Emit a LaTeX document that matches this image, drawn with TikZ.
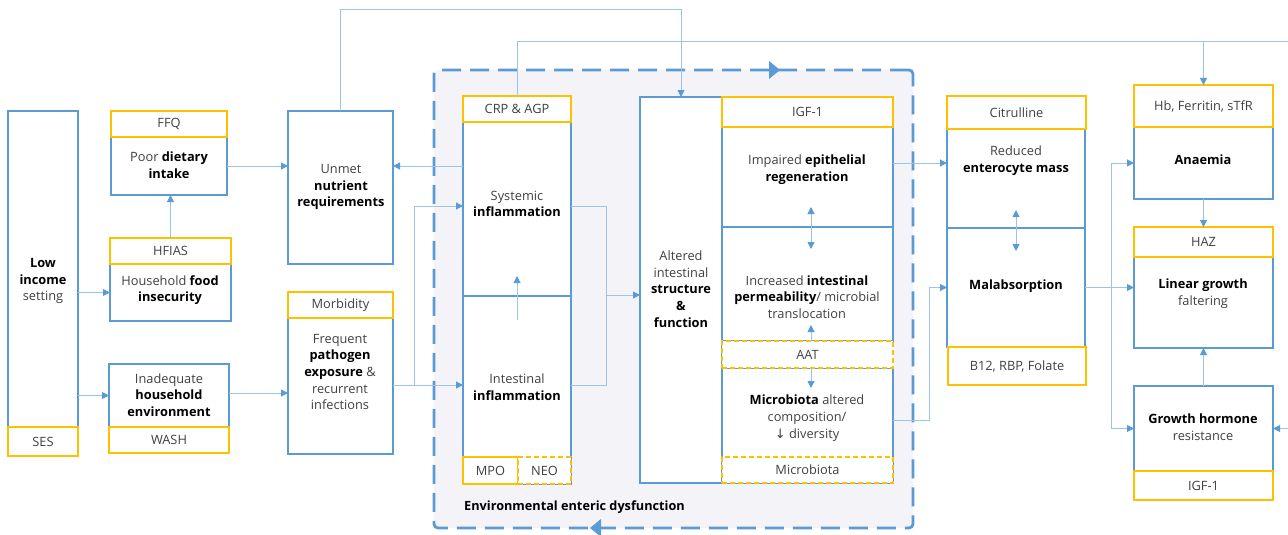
\documentclass[tikz,border=0pt]{standalone}
\usepackage{fontspec}
\setmainfont{Open Sans}
\newfontfamily\symfont{DejaVu Sans}
\usetikzlibrary{fit,arrows.meta}
\definecolor{boxblue}{HTML}{5B9BD5}
\definecolor{linkblue}{HTML}{9DC3E6}
\definecolor{mgold}{HTML}{FFC000}
\definecolor{eedfill}{HTML}{F3F3F8}
\definecolor{txt}{HTML}{404040}
\newcommand\kw[1]{{\bfseries\color{black}#1}}
\tikzset{ltip/.tip={Triangle[length=7pt,width=7pt,color=boxblue]}}

\begin{document}
\begin{tikzpicture}[x=1pt,y=-1pt,
  bbox/.style={draw=boxblue, line width=1.4pt, fill=white, inner sep=0pt, outer sep=0pt},
  ybox/.style={draw=mgold, line width=1.6pt, fill=white, inner sep=0pt, outer sep=0pt},
  ydash/.style={ybox, dash pattern=on 5pt off 3pt},
  eedbox/.style={draw=boxblue, line width=2.8pt, dash pattern=on 19pt off 9pt,
    fill=eedfill, rounded corners=4pt, inner sep=0pt},
  lbl/.style={font=\fontsize{12.8}{16.7}\selectfont, text=txt, align=center, inner sep=0pt},
  link/.style={draw=linkblue, line width=1pt, -{ltip}},
  plain/.style={draw=linkblue, line width=1pt},
  twoway/.style={draw=linkblue, line width=1pt, {ltip}-{ltip}}
]
\useasboundingbox (0,0) rectangle (1288,535);

% ---- environmental enteric dysfunction frame ----
\node[eedbox, fit={(434,70)(913,528)}] (eed) {};
\fill[boxblue] (769,61) -- (780,70) -- (769,79) -- cycle;
\fill[boxblue] (601,519) -- (590,528) -- (601,537) -- cycle;
\node[lbl, anchor=west, font=\fontsize{12.7}{14}\selectfont\bfseries, text=black] (eedtxt) at (464,507) {Environmental enteric dysfunction};

% ---- blue boxes ----
\node[bbox, fit={(8,111)(78,427)}] (low) {};
\node[bbox, fit={(111,137)(227,195)}] (poor) {};
\node[bbox, fit={(110,264)(231,321)}] (food) {};
\node[bbox, fit={(109,364)(229,427)}] (inad) {};
\node[bbox, fit={(288,111)(393,264)}] (unmet) {};
\node[bbox, fit={(288,318)(393,454)}] (freq) {};
\node[bbox, fit={(463,122)(571,296)}] (sys) {};
\node[bbox, fit={(463,296)(571,484)}] (int) {};
\node[bbox, fit={(640,97)(722,483)}] (alt) {};
\node[bbox, fit={(722,127)(893,227)}] (imp) {};
\node[bbox, fit={(722,227)(893,341)}] (perm) {};
\node[bbox, fit={(722,368)(893,483)}] (mic) {};
\node[bbox, fit={(947,129)(1085,228)}] (red) {};
\node[bbox, fit={(947,228)(1085,347)}] (mal) {};
\node[bbox, fit={(1134,127)(1273,199)}] (ana) {};
\node[bbox, fit={(1134,257)(1273,348)}] (lin) {};
\node[bbox, fit={(1134,386)(1273,471)}] (gh) {};

% ---- indicator boxes ----
\node[ybox, fit={(8,427)(78,456)}] (ses) {};
\node[ybox, fit={(111,111)(227,137)}] (ffq) {};
\node[ybox, fit={(110,238)(231,264)}] (hfias) {};
\node[ybox, fit={(109,427)(229,453)}] (wash) {};
\node[ybox, fit={(288,292)(393,318)}] (morb) {};
\node[ybox, fit={(463,96)(571,122)}] (crp) {};
\node[ybox, fit={(463,457)(518,484)}] (mpo) {};
\node[ydash, fit={(518,457)(571,484)}] (neo) {};
\node[ybox, fit={(722,97)(893,127)}] (igfa) {};
\node[ydash, fit={(722,341)(893,368)}] (aat) {};
\node[ydash, fit={(722,457)(893,483)}] (micm) {};
\node[ybox, fit={(947,96)(1086,129)}] (cit) {};
\node[ybox, fit={(948,347)(1086,385)}] (b12) {};
\node[ybox, fit={(1134,85)(1273,127)}] (hb) {};
\node[ybox, fit={(1134,227)(1273,257)}] (haz) {};
\node[ybox, fit={(1134,471)(1273,500)}] (igfb) {};

% ---- texts ----
\node[lbl] at (43,281) {\kw{Low}\\\kw{income}\\setting};
\node[lbl] at (ses) {SES};
\node[lbl] at (ffq) {FFQ};
\node[lbl] at (169,165) {Poor \kw{dietary}\\\kw{intake}};
\node[lbl] at (hfias) {HFIAS};
\node[lbl] at (170,290) {Household \kw{food}\\\kw{insecurity}};
\node[lbl] at (169,395) {Inadequate\\\kw{household}\\\kw{environment}};
\node[lbl] at (wash) {WASH};
\node[lbl] at (341,187) {Unmet\\\kw{nutrient}\\\kw{requirements}};
\node[lbl] at (morb) {Morbidity};
\node[lbl] at (340,372) {Frequent\\\kw{pathogen}\\\kw{exposure} \&\\recurrent\\infections};
\node[lbl] at (crp) {CRP \& AGP};
\node[lbl] at (517,204) {Systemic\\\kw{inflammation}};
\node[lbl] at (517,387) {Intestinal\\\kw{inflammation}};
\node[lbl] at (mpo) {MPO};
\node[lbl] at (neo) {NEO};
\node[lbl] at (681,289) {Altered\\intestinal\\\kw{structure}\\\kw{\&}\\\kw{function}};
\node[lbl] at (igfa) {IGF-1};
\node[lbl] at (807,170) {Impaired \kw{epithelial}\\\kw{regeneration}};
\node[lbl] at (807,297) {Increased \kw{intestinal}\\\kw{permeability}/ microbial\\translocation};
\node[lbl] at (aat) {AAT};
\node[lbl] at (807,418) {\kw{Microbiota} altered\\composition/\\{\symfont\fontsize{13}{14}\selectfont ↓} diversity};
\node[lbl] at (micm) {Microbiota};
\node[lbl] at (cit) {Citrulline};
\node[lbl] at (1016,161) {Reduced\\\kw{enterocyte mass}};
\node[lbl] at (1016,286) {\kw{Malabsorption}};
\node[lbl] at (b12) {B12, RBP, Folate};
\node[lbl] at (hb) {Hb, Ferritin, sTfR};
\node[lbl] at (1203,160) {\kw{Anaemia}};
\node[lbl] at (haz) {HAZ};
\node[lbl] at (1203,294) {\kw{Linear growth}\\faltering};
\node[lbl] at (1203,427) {\kw{Growth hormone}\\resistance};
\node[lbl] at (igfb) {IGF-1};

% ---- bend points and loose ends ----
\coordinate (topA) at (0,10);
\coordinate (topB) at (0,42);
\coordinate (edgeA) at (1288,42);
\coordinate (edgeB) at (1288,428.5);
\coordinate (ysys) at (0,206);
\coordinate (yint) at (0,385);
\coordinate (yenv) at (0,393);
\coordinate (fork) at (414,385);
\coordinate (merge) at (606,295);
\coordinate (yimp) at (0,163);
\coordinate (ymic) at (0,420);
\coordinate (mbend) at (929,287.5);
\coordinate (fan) at (1111,287.5);

% ---- connectors ----
\draw[link] (low.east |- food) -- (food.west);
\draw[link] (low.east |- inad) -- (inad.west);
\draw[link] (hfias.north) -- (hfias.north |- poor.south);
\draw[link] (poor.east) -- (poor.east -| unmet.west);
\draw[link] (inad.east |- yenv) -- (freq.west |- yenv);
\draw[link] (sys.west |- poor.east) -- (unmet.east |- poor.east);
\draw[link] (freq.east |- yint) -- (int.west |- yint);
\draw[link] (fork) |- (sys.west |- ysys);
\draw[plain] (sys.east |- ysys) -| (merge |- yint) -- (int.east |- yint);
\draw[link] (merge) -- (alt.west |- merge);
\draw[link] ([yshift=-24pt]int.north) -- ([yshift=20pt]int.north);
\draw[link] (unmet.north) -- (unmet.north |- topA) -| (alt.north);
\draw[plain] (crp.north) -- (crp.north |- topB) -- (edgeA);
\draw[link] (hb.north |- topB) -- (hb.north);
\draw[twoway] ([xshift=3.5pt,yshift=20pt]imp.south) -- ([xshift=3.5pt,yshift=-22pt]imp.south);
\draw[link] ([xshift=3.5pt]aat.north) -- ([xshift=3.5pt,yshift=16pt]aat.north);
\draw[link] ([xshift=3.5pt]aat.south) -- ([xshift=3.5pt,yshift=-20pt]aat.south);
\draw[link] (imp.east |- yimp) -- (red.west |- yimp);
\draw[link] (mic.east |- ymic) -| (mbend) -- (mal.west);
\draw[twoway] ([yshift=18pt]red.south) -- ([yshift=-23pt]red.south);
\draw[link] (mal.east) -- (lin.west |- mal.east);
\draw[link] (fan) |- (ana.west);
\draw[link] (fan) |- (gh.west);
\draw[link] (ana.south) -- (haz.north);
\draw[link] (gh.north) -- (lin.south);
\draw[link] (edgeB) -- (gh.east);
\end{tikzpicture}
\end{document}
